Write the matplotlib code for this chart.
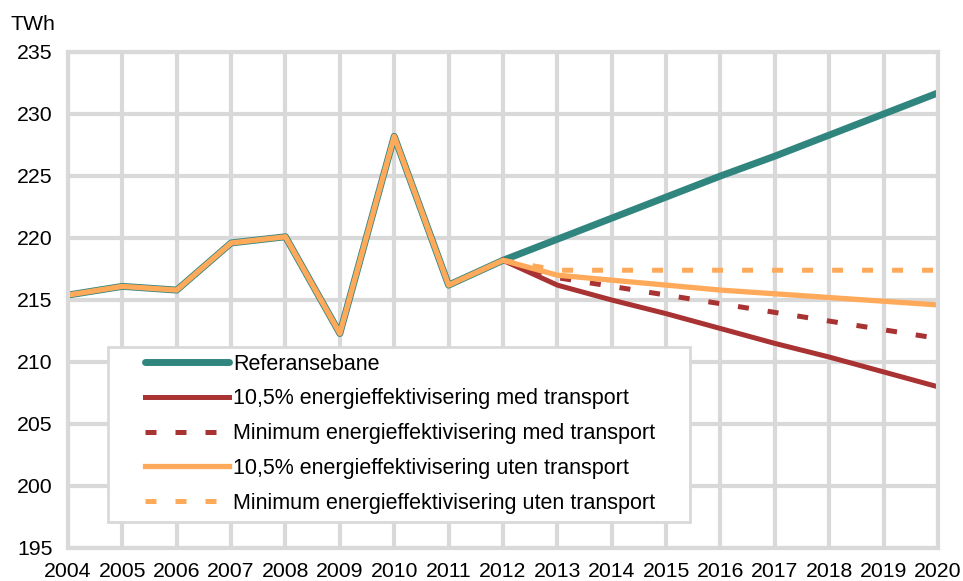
import matplotlib.pyplot as plt
from matplotlib.patches import Rectangle

plt.rcParams["font.family"] = ["Liberation Sans", "DejaVu Sans"]

# historical consumption (all scenarios share it)
years_hist = [2004, 2005, 2006, 2007, 2008, 2009, 2010, 2011, 2012]
hist = [215.4, 216.1, 215.8, 219.6, 220.1, 212.3, 228.2, 216.2, 218.2]

# projections 2012-2020
years_proj = [2012, 2013, 2014, 2015, 2016, 2017, 2018, 2019, 2020]
referanse = [218.2, 219.9, 221.6, 223.3, 225.0, 226.6, 228.3, 230.0, 231.7]
eff_med = [218.2, 216.2, 215.0, 213.9, 212.7, 211.5, 210.4, 209.2, 208.0]
min_med = [218.2, 216.8, 216.1, 215.4, 214.7, 214.0, 213.3, 212.6, 211.9]
eff_uten = [218.2, 217.0, 216.6, 216.2, 215.8, 215.5, 215.2, 214.9, 214.6]
min_uten = [218.2, 217.4, 217.4, 217.4, 217.4, 217.4, 217.4, 217.4, 217.4]

labels = [
    "Referansebane",
    "10,5% energieffektivisering med transport",
    "Minimum energieffektivisering med transport",
    "10,5% energieffektivisering uten transport",
    "Minimum energieffektivisering uten transport",
]

teal = "#31857F"
red = "#A93232"
orange = "#FFAA5A"
grid = "#D9D9D9"

fig = plt.figure(figsize=(9.63, 5.81), dpi=100)
ax = fig.add_axes([0.0706, 0.0568, 0.9034, 0.8537])

ax.plot(years_hist + years_proj[1:], hist + referanse[1:], color=teal, lw=5,
        solid_capstyle="round", label=labels[0])
ax.plot(years_proj, eff_med, color=red, lw=3.6, label=labels[1])
ax.plot(years_proj, min_med, color=red, lw=3.6, dashes=(2.2, 3.8), label=labels[2])
ax.plot(years_proj, min_uten, color=orange, lw=3.6, dashes=(2.2, 3.8), label=labels[4])
ax.plot(years_hist + years_proj[1:], hist + eff_uten[1:], color=orange, lw=3.8,
        label=labels[3])

ax.set_xlim(2004, 2020)
ax.set_ylim(195, 235)
ax.set_xticks(range(2004, 2021))
ax.set_yticks(range(195, 236, 5))
ax.grid(True, color=grid, lw=3)
ax.set_axisbelow(True)
for s in ax.spines.values():
    s.set_color(grid)
    s.set_linewidth(3)
ax.tick_params(length=0, labelsize=15.3)
ax.tick_params(axis="x", pad=10)
ax.tick_params(axis="y", pad=11)

fig.text(0.011, 1 - 25 / 581, "TWh", fontsize=15.3, va="center")

# legend box
ax.add_patch(Rectangle((0.046, 0.052), 0.669, 0.353, transform=ax.transAxes,
                       facecolor="white", edgecolor=grid, lw=2, zorder=4))
h, l = ax.get_legend_handles_labels()
order = [0, 1, 2, 4, 3]
leg = ax.legend([h[i] for i in order], [l[i] for i in order],
                loc="upper left", bbox_to_anchor=(0.0885, 0.392), frameon=False,
                borderpad=0, borderaxespad=0, handlelength=3.9, handletextpad=0.2,
                labelspacing=0.64, fontsize=15.5)
leg.set_zorder(5)

fig.savefig("out.png", dpi=100)
